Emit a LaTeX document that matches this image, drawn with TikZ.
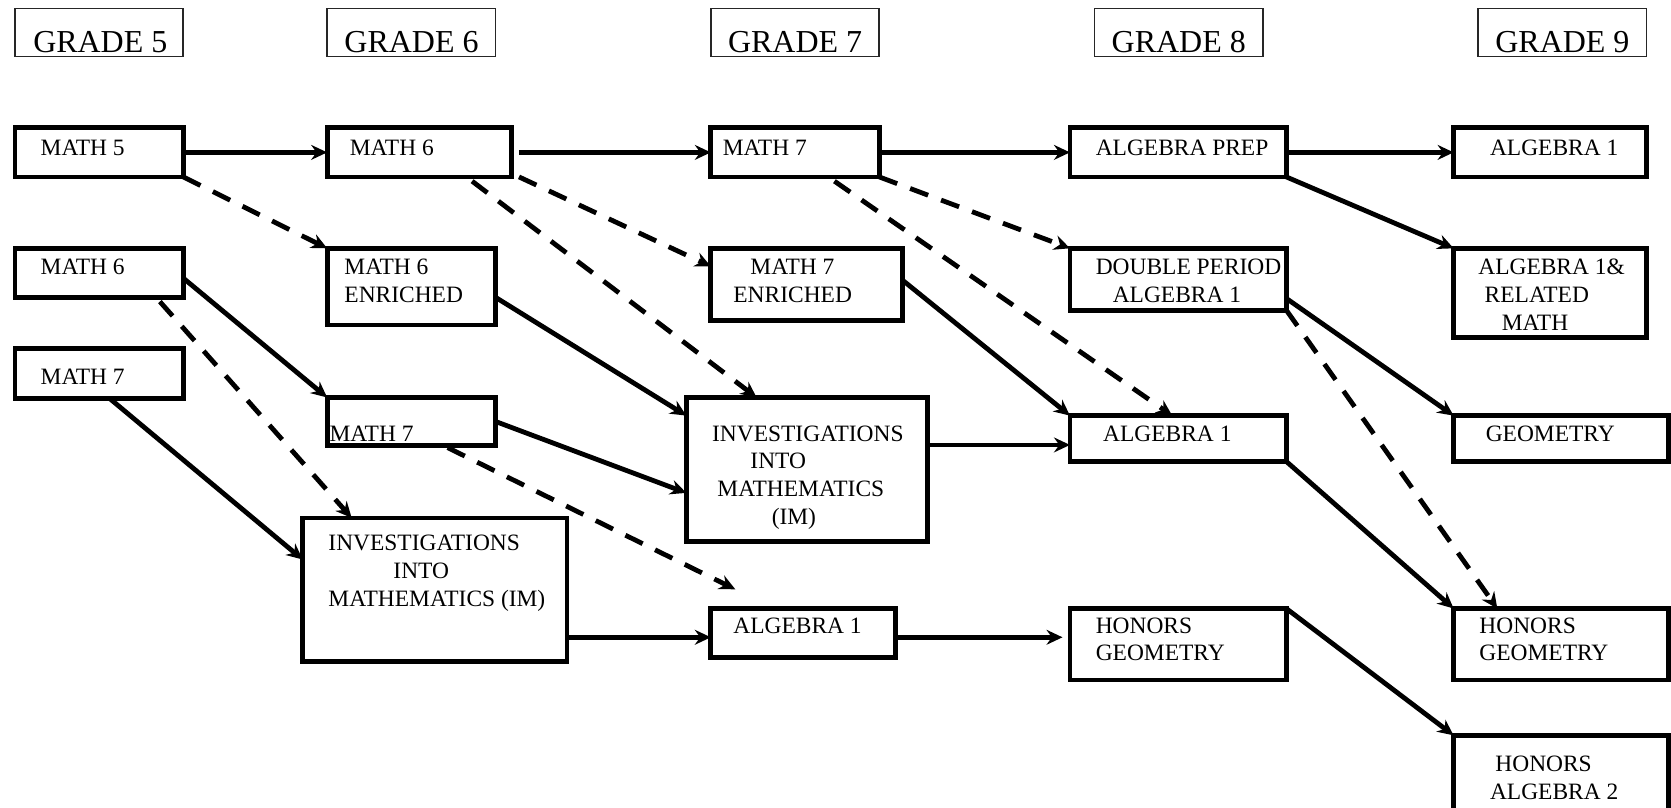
\documentclass[tikz,border=0pt]{standalone}
\usepackage{fontspec}
\setmainfont{Liberation Serif}
\usetikzlibrary{arrows.meta,calc}
\begin{document}
\begin{tikzpicture}[x=1pt,y=-1pt,
 box/.style={draw, line width=4.5pt, inner sep=0pt, outer sep=0pt, anchor=north west},
 hdr/.style={draw=black!85, line width=1.6pt, inner sep=0pt, outer sep=0pt, anchor=north west},
 lbl/.style={anchor=base west, inner sep=0pt, font=\fontsize{22}{26}\selectfont},
 hlbl/.style={anchor=base west, inner sep=0pt, font=\fontsize{30}{36}\selectfont},
 arr/.style={line width=4.5pt, -{Stealth[length=15pt,width=14pt,inset=5pt]}},
 darr/.style={arr, dash pattern=on 18pt off 13pt},
]
\useasboundingbox (0,0) rectangle (1568,758);
% headers
\node[hdr, minimum width=158pt, minimum height=45pt] (g5) at (14,8) {};
\node[hdr, minimum width=158pt, minimum height=45pt] (g6) at (307,8) {};
\node[hdr, minimum width=158pt, minimum height=45pt] (g7) at (667,8) {};
\node[hdr, minimum width=158pt, minimum height=45pt] (g8) at (1027,8) {};
\node[hdr, minimum width=158pt, minimum height=45pt] (g9) at (1387,8) {};
\node[hlbl] (g5t) at (31,49) {GRADE 5};
\node[hlbl] (g6t) at (323,49) {GRADE 6};
\node[hlbl] (g7t) at (683,49) {GRADE 7};
\node[hlbl] (g8t) at (1043,49) {GRADE 8};
\node[hlbl] (g9t) at (1403,49) {GRADE 9};
% row 1
\node[box, minimum width=158pt, minimum height=46pt] (m5) at (14,120) {};
\node[box, minimum width=173pt, minimum height=46pt] (m6) at (307,120) {};
\node[box, minimum width=158pt, minimum height=46pt] (m7) at (667,120) {};
\node[box, minimum width=203pt, minimum height=46pt] (ap) at (1004,120) {};
\node[box, minimum width=181pt, minimum height=46pt] (a1n) at (1364,120) {};
% row 2
\node[box, minimum width=158pt, minimum height=46pt] (m6a) at (14,233) {};
\node[box, minimum width=158pt, minimum height=72pt] (m6e) at (307,233) {};
\node[box, minimum width=180pt, minimum height=68pt] (m7e) at (667,233) {};
\node[box, minimum width=203pt, minimum height=58pt] (dp) at (1004,233) {};
\node[box, minimum width=181pt, minimum height=84pt] (arm) at (1364,233) {};
% row 3
\node[box, minimum width=158pt, minimum height=47pt] (m7a) at (14,327) {};
\node[box, minimum width=158pt, minimum height=45pt] (m7b) at (307,373) {};
\node[box, minimum width=226pt, minimum height=135pt] (imb) at (644,373) {};
\node[box, minimum width=203pt, minimum height=43pt] (a1g8) at (1004,390) {};
\node[box, minimum width=202pt, minimum height=43pt] (geo) at (1364,390) {};
% row 4
\node[box, minimum width=248pt, minimum height=135pt] (ima) at (284,486) {};
\node[box, minimum width=173pt, minimum height=46pt] (a1g7) at (667,571) {};
\node[box, minimum width=203pt, minimum height=67pt] (hg8) at (1004,571) {};
\node[box, minimum width=202pt, minimum height=67pt] (hg9) at (1364,571) {};
\node[box, minimum width=202pt, minimum height=90pt] (ha2) at (1364,690) {};
% labels
\node[lbl] (t1) at (38,146) {MATH 5};
\node[lbl] (t2) at (328,146) {MATH 6};
\node[lbl] (t3) at (678,146) {MATH 7};
\node[lbl] (t4) at (1028,146) {ALGEBRA PREP};
\node[lbl] (t5) at (1398,146) {ALGEBRA 1};
\node[lbl] (t6) at (38,258) {MATH 6};
\node[lbl] (t7) at (323,258) {MATH 6};
\node[lbl] (t8) at (323,284) {ENRICHED};
\node[lbl] (t9) at (704,258) {MATH 7};
\node[lbl] (t10) at (688,284) {ENRICHED};
\node[lbl] (t11) at (1028,258) {DOUBLE PERIOD};
\node[lbl] (t12) at (1044,284) {ALGEBRA 1};
\node[lbl] (t13) at (1387,258) {ALGEBRA 1\&};
\node[lbl] (t14) at (1393,284) {RELATED};
\node[lbl] (t15) at (1409,310) {MATH};
\node[lbl] (t16) at (38,361) {MATH 7};
\node[lbl] (t17) at (309,414) {MATH 7};
\node[lbl] (t18) at (668,414) {INVESTIGATIONS};
\node[lbl] (t19) at (704,440) {INTO};
\node[lbl] (t20) at (673,466) {MATHEMATICS};
\node[lbl] (t21) at (724,492) {(IM)};
\node[lbl] (t22) at (1035,414) {ALGEBRA 1};
\node[lbl] (t23) at (1394,414) {GEOMETRY};
\node[lbl] (t24) at (308,517) {INVESTIGATIONS};
\node[lbl] (t25) at (369,543) {INTO};
\node[lbl] (t26) at (308,569) {MATHEMATICS (IM)};
\node[lbl] (t27) at (688,594) {ALGEBRA 1};
\node[lbl] (t28) at (1028,594) {HONORS};
\node[lbl] (t29) at (1028,620) {GEOMETRY};
\node[lbl] (t30) at (1388,594) {HONORS};
\node[lbl] (t31) at (1388,620) {GEOMETRY};
\node[lbl] (t32) at (1403,724) {HONORS};
\node[lbl] (t33) at (1398,750) {ALGEBRA 2};
% solid connectors
\draw[arr] (m5.east) -- (m6.west);
\draw[arr] ([xshift=7pt]m6.east) -- (m7.west);
\draw[arr] (m7.east) -- (ap.west);
\draw[arr] (ap.east) -- (a1n.west);
\draw[arr] (ap.south east) -- (arm.north west);
\draw[arr] ([yshift=-5pt]m6a.east) -- (m7b.north west);
\draw[arr] ([xshift=89pt]m7a.south west) -- ([yshift=-39pt]ima.north west);
\draw[arr] ([yshift=-10pt]m6e.east) -- ([yshift=-17pt]imb.north west);
\draw[arr] (m7b.east) -- ([yshift=-22pt]imb.west);
\draw[arr] ([yshift=4pt]m7e.east) -- (a1g8.north west);
\coordinate (c11) at ([yshift=-6pt]a1g8.west);
\draw[arr] (imb.east |- c11) -- (c11);
\coordinate (c12) at ([yshift=-4pt]a1g7.west);
\draw[arr] (ima.east |- c12) -- (c12);
\coordinate (c13) at ([xshift=-7pt]hg8.west |- c12);
\draw[arr] (a1g7.east |- c12) -- (c13);
\draw[arr] ([yshift=11pt]dp.south east) -- (geo.north west);
\draw[arr] (a1g8.south east) -- (hg9.north west);
\draw[arr] (hg8.north east) -- (ha2.north west);
% dashed connectors
\draw[darr] (m5.south east) -- (m6e.north west);
\draw[darr] ([xshift=-37pt,yshift=-4pt]m6.south east) -- ([xshift=66pt]imb.north west);
\draw[darr] ([xshift=7pt]m6.south east) -- ([yshift=-17pt]m7e.north west);
\draw[darr] ([xshift=-42pt,yshift=-4pt]m7.south east) -- ([xshift=96pt]a1g8.north west);
\draw[darr] (m7.south east) -- (dp.north west);
\draw[darr] ([xshift=-22pt,yshift=-4pt]m6a.south east) -- ([xshift=46pt]ima.north west);
\coordinate (gend) at (690,553);
\draw[darr] ([xshift=-45pt,yshift=-2pt]m7b.south east) -- (gend);
\draw[darr] (dp.south east) -- ([xshift=41pt]hg9.north west);
\end{tikzpicture}
\end{document}
